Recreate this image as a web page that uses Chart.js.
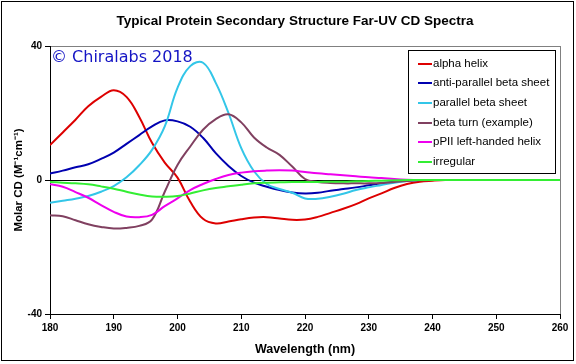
<!DOCTYPE html>
<html>
<head>
<meta charset="utf-8">
<script src="https://cdn.jsdelivr.net/npm/chart.js@4/dist/chart.umd.min.js"></script>
<style>
html,body{margin:0;padding:0;background:#fff;}
#wrap{width:576px;height:364px;}
</style>
</head>
<body>
<div id="wrap"><canvas id="c" width="576" height="364"></canvas></div>
<script>
const wavelengths = [180,182,184,186,188,190,192,194,196,198,200,202,204,206,208,210,212,214,216,218,220,222,224,226,228,230,232,234,236,238,240,242,244,252,260];
const alphaHelix = [10.4,14.2,18,22,24.8,26.8,24.8,18.8,11.1,5.2,0.7,-6.5,-11.6,-13,-12.4,-11.7,-11.2,-11.1,-11.5,-11.9,-11.8,-11,-9.8,-8.6,-7.2,-5.5,-4,-2.4,-1.2,-0.5,-0.2,0,0,0,0];
const antiParallel = [1.9,2.8,3.8,4.7,6.3,8.2,10.8,13.4,16,17.8,17.5,15.9,12.6,8,4.2,1.2,-0.8,-2,-3,-3.7,-4,-3.8,-3.2,-2.7,-2.2,-1.6,-1,-0.5,-0.2,0,0,0,0,0,0];
const parallel = [-6.8,-6.2,-5.6,-4.8,-3.5,-1.8,0.8,4.4,9,16,27.5,34,35,29,20,9.5,2.6,-1.2,-2.7,-3.8,-5.5,-5.6,-5,-4.1,-3,-2.2,-1.5,-0.8,-0.3,0,0,0,0,0,0];
const betaTurn = [-10.5,-10.8,-12,-13.2,-14,-14.5,-14.3,-13.7,-11.8,-3.5,4.5,10,15,18.2,19.6,17.2,12.7,9.7,7.5,4,0.3,-0.6,-0.9,-1,-1,-1,-0.9,-0.6,-0.3,-0.1,0,0,0,0,0];
const ppII = [-1.3,-2,-3.6,-5.3,-7.5,-9.5,-10.9,-11.1,-10.4,-7.8,-5.5,-3,-1.2,0.3,1.5,2.2,2.6,2.8,2.9,2.8,2.4,2,1.7,1.4,1.1,0.8,0.6,0.3,0.1,0,0,0,0,0,0];
const irregular = [-0.6,-0.8,-1,-1.3,-1.9,-2.6,-3.5,-4.3,-4.9,-5,-4.8,-4,-3.1,-2.4,-1.9,-1.4,-1,-0.8,-0.7,-0.6,-0.6,-0.6,-0.5,-0.5,-0.4,-0.3,-0.2,-0.1,0,0,0,0,0,0,0];
const seriesLabels = ["alpha helix","anti-parallel beta sheet","parallel beta sheet","beta turn (example)","pPII left-handed helix","irregular"];
const seriesColors = ["#dd0000","#0000b0","#33c6e8","#804060","#ee00ee","#33ee33"];
const seriesValues = [alphaHelix, antiParallel, parallel, betaTurn, ppII, irregular];
const yTicks = [-40, 0, 40];
const xTicks = [180,190,200,210,220,230,240,250,260];
const chartTitle = "Typical Protein Secondary Structure Far-UV CD Spectra";
const xTitle = "Wavelength (nm)";
const yTitle = "Molar CD (M\u207B\u00B9cm\u207B\u00B9)";
const copyright = "\u00A9 Chiralabs 2018";

const datasets = seriesValues.map((vals, i) => ({
  label: seriesLabels[i],
  data: vals.map((v, j) => ({x: wavelengths[j], y: v})),
  borderColor: seriesColors[i],
  backgroundColor: seriesColors[i],
  borderWidth: 2,
  pointRadius: 0,
  fill: false,
  tension: 0.4,
  order: seriesValues.length - 1 - i
}));

const decor = {
  id: 'decor',
  beforeDraw(chart) {
    const ctx = chart.ctx;
    ctx.save();
    ctx.fillStyle = '#fff';
    ctx.fillRect(0, 0, chart.width, chart.height);
    ctx.strokeStyle = '#000';
    ctx.lineWidth = 1;
    ctx.strokeRect(1.5, 1.5, 572, 359);
    ctx.fillStyle = '#000';
    ctx.font = 'bold 13.5px "Liberation Sans", Arial, sans-serif';
    ctx.textAlign = 'center';
    ctx.textBaseline = 'middle';
    ctx.fillText(chartTitle, 295, 21);
    ctx.restore();
  },
  afterDraw(chart) {
    const ctx = chart.ctx;
    ctx.save();
    ctx.fillStyle = '#1414c4';
    ctx.font = '16px "DejaVu Sans", sans-serif';
    ctx.textAlign = 'left';
    ctx.textBaseline = 'alphabetic';
    ctx.fillText(copyright, 51, 62);
    // legend
    const bx = 408.5, by = 50.5, bw = 147, bh = 123;
    ctx.fillStyle = '#fff';
    ctx.fillRect(bx, by, bw, bh);
    ctx.strokeStyle = '#000';
    ctx.lineWidth = 1;
    ctx.strokeRect(bx, by, bw, bh);
    ctx.font = '11.5px "Liberation Sans", Arial, sans-serif';
    ctx.textBaseline = 'middle';
    chart.data.datasets.forEach((ds, i) => {
      const y = 63.5 + i * 19.7;
      ctx.strokeStyle = ds.borderColor;
      ctx.lineWidth = 2;
      ctx.beginPath();
      ctx.moveTo(418, Math.round(y));
      ctx.lineTo(432, Math.round(y));
      ctx.stroke();
      ctx.fillStyle = '#000';
      ctx.fillText(ds.label, 433, y);
    });
    ctx.restore();
  }
};

const tickFont = {family: '"Liberation Sans", Arial, sans-serif', size: 10, weight: 'bold'};
const titleFont = {family: '"Liberation Sans", Arial, sans-serif', size: 12.5, weight: 'bold'};

new Chart(document.getElementById('c'), {
  type: 'line',
  data: {datasets},
  options: {
    responsive: false,
    animation: false,
    devicePixelRatio: 1,
    layout: {padding: {top: 46, right: 16, bottom: 0, left: 0}},
    plugins: {legend: {display: false}, tooltip: {enabled: false}, title: {display: false}},
    scales: {
      x: {
        type: 'linear',
        min: 180, max: 260,
        afterFit(s) { s.height = 50; },
        afterBuildTicks(s) { s.ticks = xTicks.map(v => ({value: v})); },
        ticks: {font: tickFont, color: '#000', padding: 3, maxRotation: 0, autoSkip: false},
        grid: {
          color: c => c.tick && c.tick.value === 260 ? '#808080' : 'rgba(0,0,0,0)',
          tickColor: '#000', tickLength: 5, drawOnChartArea: true
        },
        border: {display: true, color: '#000', width: 1},
        title: {display: true, text: xTitle, font: titleFont, color: '#000', padding: {top: 0, bottom: 7}}
      },
      y: {
        type: 'linear',
        min: -40, max: 40,
        afterFit(s) { s.width = 50; },
        afterBuildTicks(s) { s.ticks = yTicks.map(v => ({value: v})); },
        ticks: {font: tickFont, color: '#000', padding: 3},
        grid: {
          color: c => {
            if (!c.tick) return 'rgba(0,0,0,0)';
            if (c.tick.value === 0) return '#000';
            if (c.tick.value === 40) return '#808080';
            return 'rgba(0,0,0,0)';
          },
          tickColor: '#000', tickLength: 5
        },
        border: {display: true, color: '#000', width: 1},
        title: {display: true, text: yTitle, font: {family: '"Liberation Sans", Arial, sans-serif', size: 11.5, weight: 'bold'}, color: '#000', padding: {top: 12, bottom: 0}}
      }
    }
  },
  plugins: [decor]
});
</script>
</body>
</html>
